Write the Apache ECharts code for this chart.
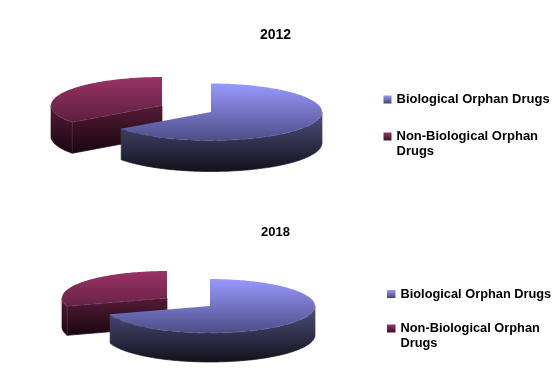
<!DOCTYPE html>
<html>
<head>
<meta charset="utf-8">
<style>html,body{margin:0;padding:0;background:#fff}#c{width:559px;height:384px}</style>
<script src="https://cdn.jsdelivr.net/npm/echarts@6/dist/echarts.min.js"></script>
</head>
<body>
<div id="c"></div>
<script>
const years = ['2012', '2018'];
const categories = ['Biological Orphan Drugs', 'Non-Biological Orphan Drugs'];
const values2012 = [65, 35];
const values2018 = [70, 30];

const FONT = '"Liberation Sans", Arial, sans-serif';
const layouts = [
  { rx: 111, ry: 28.5, depth: 31, centers: [[211, 112], [162, 105.5]], title: [275.5, 35], titleSize: 14,
    legendLeft: 383.5, legendTop: 92, iconW: 8, iconH: 8, gap: 7, fontSize: 13 },
  { rx: 105, ry: 27, depth: 29, centers: [[210, 306], [167, 298]], title: [275.5, 232], titleSize: 13,
    legendLeft: 387, legendTop: 286.5, iconW: 8.5, iconH: 8, gap: 4.5, fontSize: 12.8 }
];
const palettes = [
  { top: ['#9999ff', '#4d4d87'], wall: ['#50507f', '#12121c'], line: 'rgba(205,205,255,0.3)', legend: ['#9999ff', '#44446f'] },
  { top: ['#993366', '#4d1a33'], wall: ['#541c38', '#1a0510'], line: 'rgba(255,205,230,0.2)', legend: ['#993366', '#3d1228'] }
];

function grad(y0, y1, c) {
  return new echarts.graphic.LinearGradient(0, y0, 0, y1, [
    { offset: 0, color: c[0] }, { offset: 1, color: c[1] }
  ], true);
}

function renderSlice(chartIdx, catIdx) {
  return function (params, api) {
    const L = layouts[chartIdx], P = palettes[catIdx];
    const total = api.value(1), before = api.value(2), val = api.value(0);
    const a0 = before / total * 2 * Math.PI, a1 = (before + val) / total * 2 * Math.PI;
    const [cx, cy] = L.centers[catIdx];
    const pt = (a, dz) => [cx + L.rx * Math.sin(a), cy - L.ry * Math.cos(a) + (dz || 0)];
    const arc = (s, e, dz) => {
      const out = [], n = Math.max(2, Math.ceil((e - s) / 0.02));
      for (let i = 0; i <= n; i++) out.push(pt(s + (e - s) * i / n, dz));
      return out;
    };
    const children = [];
    const yTop = cy - L.ry, yMid = cy + L.ry;
    const cutA = catIdx === 1 ? a0 : null;
    const yBot = cutA !== null ? pt(cutA, L.depth)[1] : cy + L.ry + L.depth;
    const wallStyle = () => ({ fill: grad(cy, yBot, P.wall), stroke: grad(cy, yBot, P.wall), lineWidth: 0.7 });
    const fs = Math.max(a0, Math.PI / 2), fe = Math.min(a1, 1.5 * Math.PI);
    if (fe > fs) {
      children.push({ type: 'polygon', silent: true,
        shape: { points: arc(fs, fe, 0).concat(arc(fs, fe, L.depth).reverse()) },
        style: wallStyle() });
    }
    if (cutA !== null) {
      const c = pt(cutA, 0);
      children.push({ type: 'polygon', silent: true,
        shape: { points: [[cx, cy], c, [c[0], c[1] + L.depth], [cx, cy + L.depth]] },
        style: wallStyle() });
    }
    children.push({ type: 'polygon', silent: true,
      shape: { points: [[cx, cy]].concat(arc(a0, a1, 0)) },
      style: { fill: grad(yTop, yMid, P.top) } });
    const hl = { stroke: P.line, lineWidth: 0.6, fill: 'none' };
    if (fe > fs) {
      children.push({ type: 'polyline', silent: true, shape: { points: arc(fs, fe, 0) },
        style: Object.assign({ lineDash: [9, 4] }, hl) });
    }
    if (cutA !== null) {
      const c = pt(cutA, 0);
      children.push({ type: 'polyline', silent: true, shape: { points: [[cx, cy], c] },
        style: Object.assign({ lineDash: [7, 4] }, hl) });
      children.push({ type: 'polyline', silent: true, shape: { points: [c, [c[0], c[1] + L.depth]] }, style: hl });
    }
    return { type: 'group', children };
  };
}

const allValues = [values2012, values2018];
const series = [];
allValues.forEach((vals, ci) => {
  const total = vals.reduce((a, b) => a + b, 0);
  [1, 0].forEach(k => {
    const before = vals.slice(0, k).reduce((a, b) => a + b, 0);
    series.push({
      type: 'custom', name: categories[k], coordinateSystem: 'none', silent: true, animation: false,
      itemStyle: { color: palettes[k].top[0] },
      renderItem: renderSlice(ci, k),
      data: [[vals[k], total, before]]
    });
  });
});

const legends = layouts.map(L => ({
  orient: 'vertical', left: L.legendLeft, top: L.legendTop, padding: 0,
  itemWidth: L.iconW, itemHeight: L.iconH, itemGap: L.gap, selectedMode: false,
  textStyle: { fontFamily: FONT, fontWeight: 'bold', fontSize: L.fontSize, lineHeight: 15, color: '#000' },
  // the empty first line keeps the swatch level with the first text line of the wrapped name
  formatter: n => n.length > 24 ? ' \n' + n.replace('Orphan Drugs', 'Orphan\nDrugs') : n,
  data: categories.map((c, k) => ({
    name: c, icon: 'rect',
    itemStyle: { color: new echarts.graphic.LinearGradient(0, 0, 0, 1, [
      { offset: 0, color: palettes[k].legend[0] }, { offset: 1, color: palettes[k].legend[1] }]) }
  }))
}));

const chart = echarts.init(document.getElementById('c'), null, { renderer: 'canvas' });
chart.setOption({
  animation: false,
  backgroundColor: '#fff',
  title: layouts.map((L, i) => ({
    text: years[i], left: L.title[0], top: L.title[1], textAlign: 'center', textVerticalAlign: 'middle', padding: 0,
    textStyle: { fontFamily: FONT, fontWeight: 'bold', fontSize: L.titleSize, color: '#000' }
  })),
  legend: legends,
  series
});
</script>
</body>
</html>
